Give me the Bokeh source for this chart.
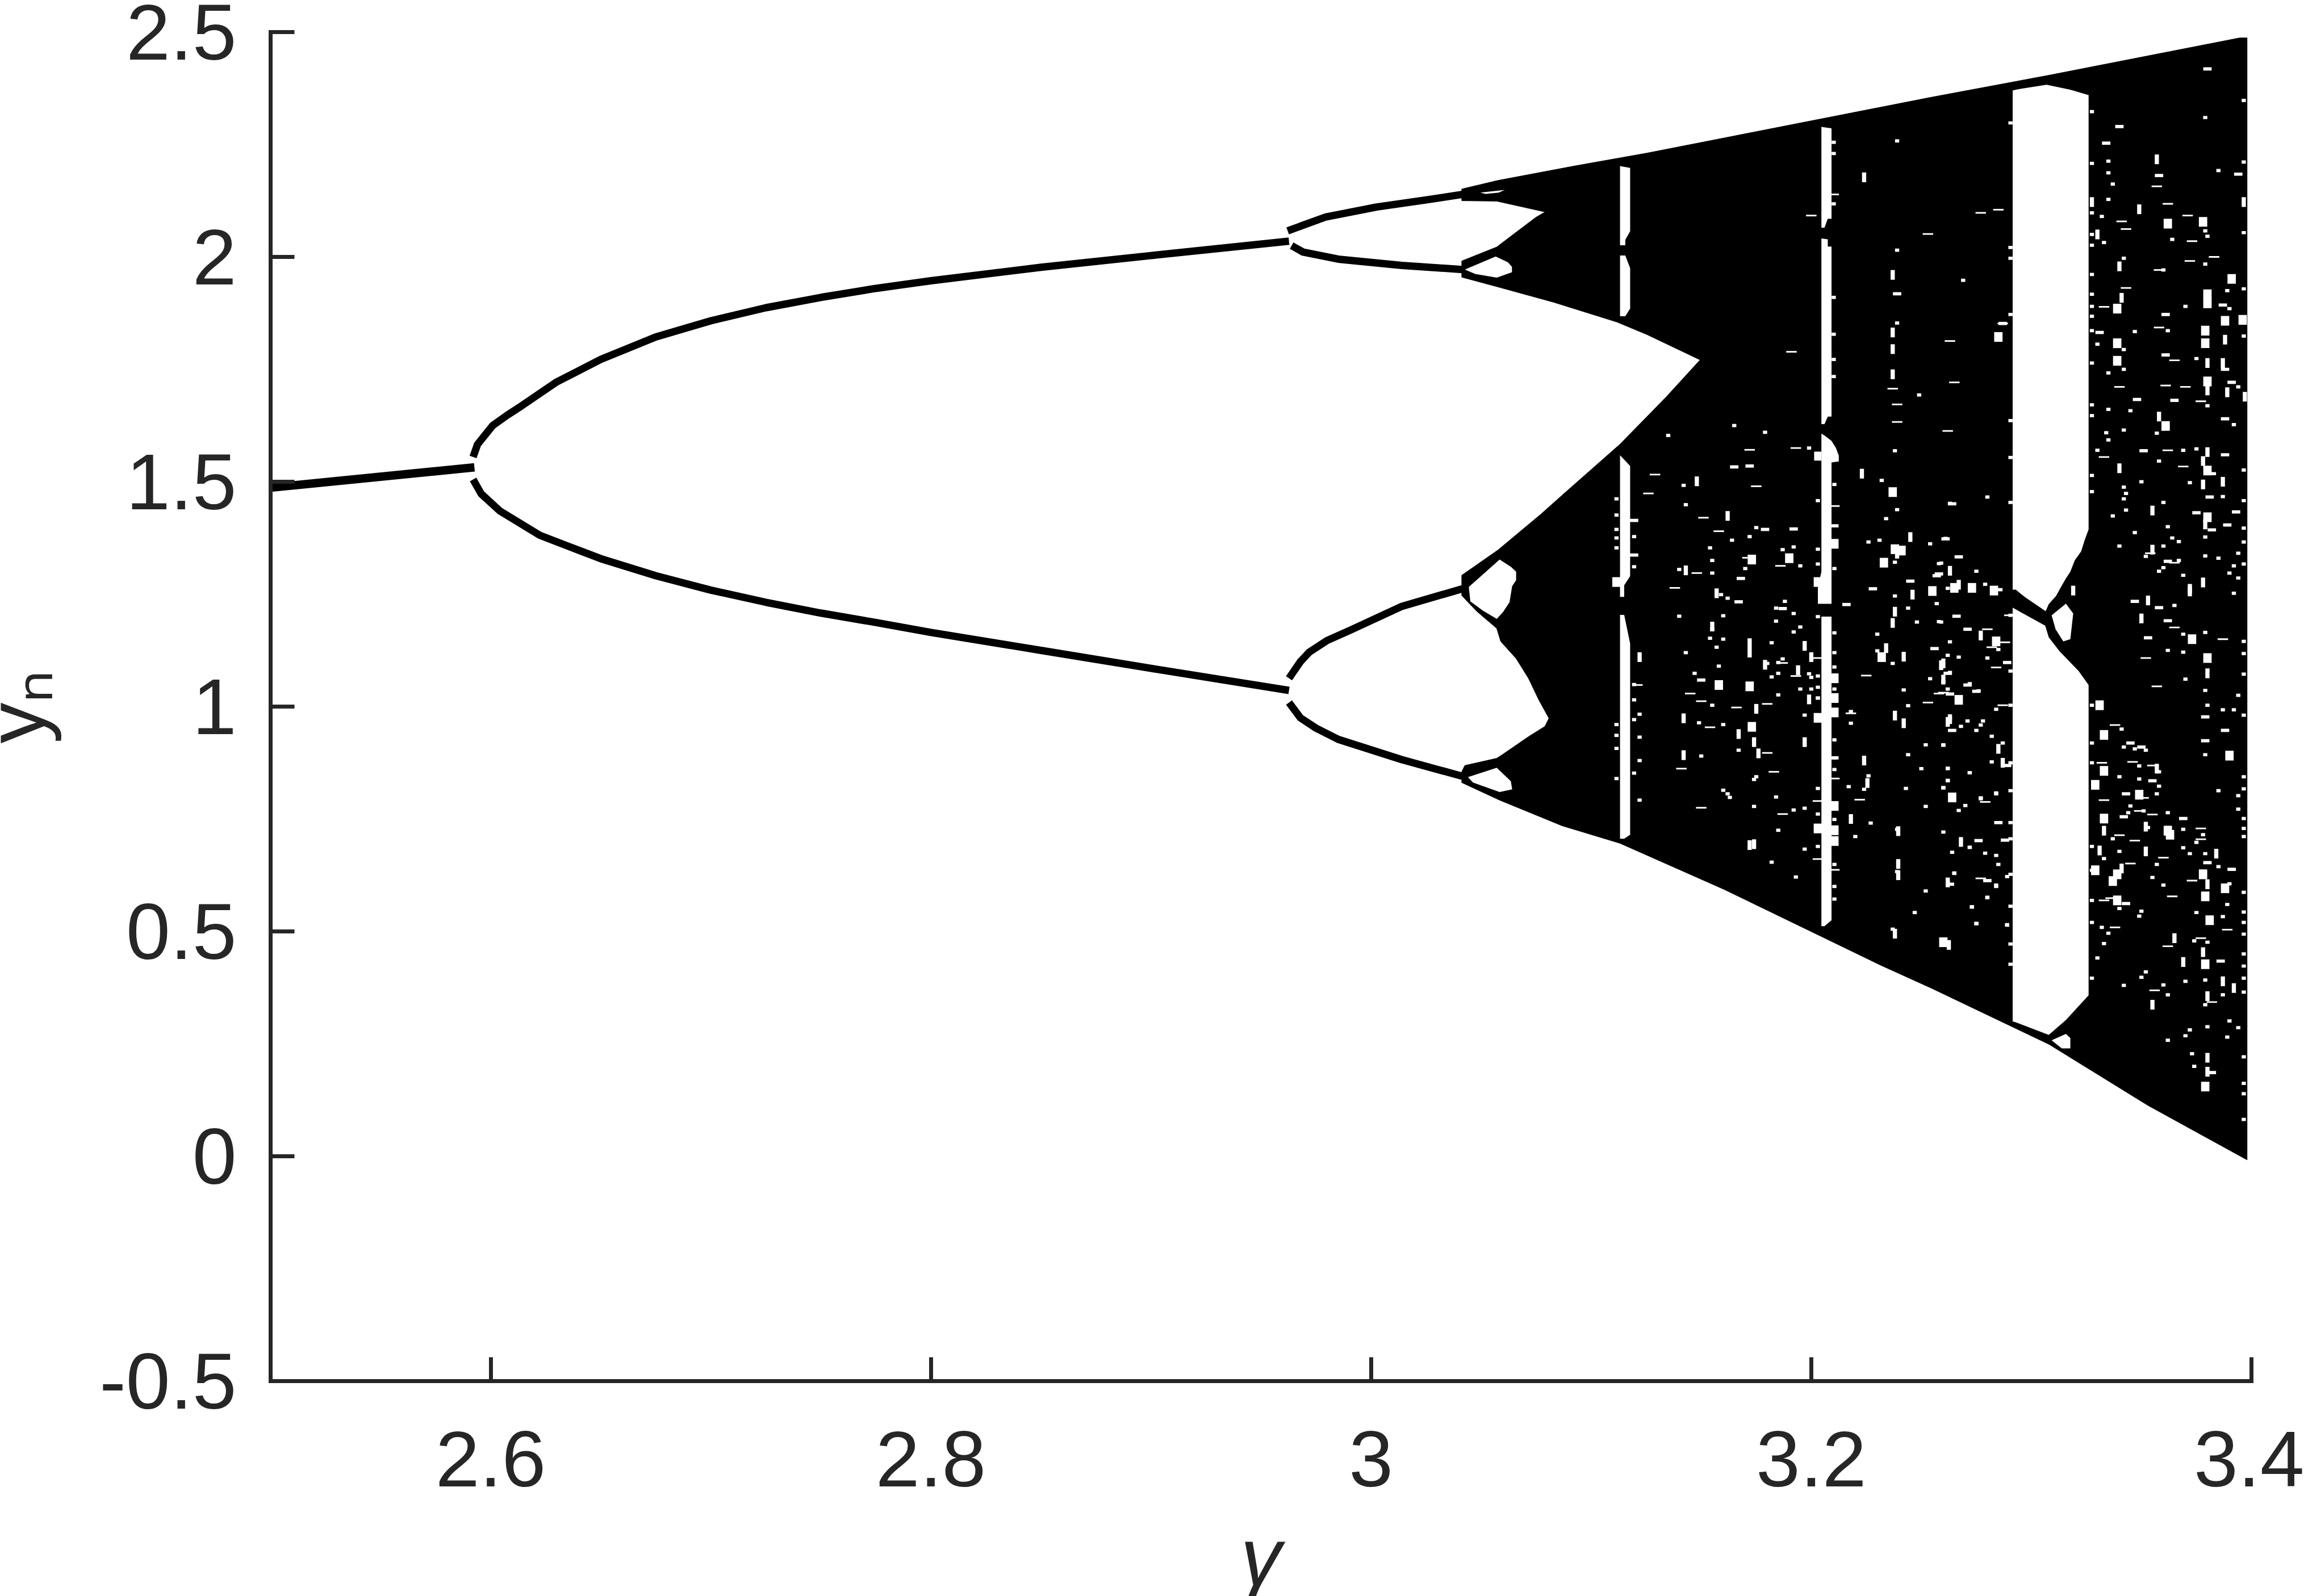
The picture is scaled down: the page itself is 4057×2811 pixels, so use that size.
from bokeh.plotting import figure
from bokeh.models import FixedTicker
from bokeh.embed import file_html
from bokeh.resources import INLINE

# ---------- tick labels ----------
x_ticks = [2.6, 2.8, 3.0, 3.2, 3.4]
x_tick_labels = ["2.6", "2.8", "3", "3.2", "3.4"]
y_ticks = [-0.5, 0, 0.5, 1, 1.5, 2, 2.5]
y_tick_labels = ["-0.5", "0", "0.5", "1", "1.5", "2", "2.5"]

# ---------- stable branches (gamma, y_n) ----------
fixed_point = [(2.5, 1.487), (2.5926, 1.532)]
arc_upper = [(2.592, 1.555), (2.594, 1.583), (2.6009, 1.625), (2.6075, 1.648), (2.6138, 1.668), (2.63, 1.722), (2.65, 1.772), (2.675, 1.822),
             (2.7, 1.858), (2.725, 1.887), (2.75, 1.910), (2.775, 1.930), (2.8, 1.947), (2.85, 1.977), (2.9, 2.003), (2.9627, 2.035)]
arc_lower = [(2.592, 1.505), (2.5957, 1.473), (2.6042, 1.435), (2.6223, 1.381), (2.635, 1.357), (2.65, 1.329), (2.675, 1.291),
             (2.7, 1.259), (2.725, 1.232), (2.75, 1.208), (2.775, 1.187), (2.8, 1.165), (2.85, 1.125), (2.9, 1.085), (2.9627, 1.036)]
p4_a = [(2.9621, 2.058), (2.9795, 2.089), (3.0025, 2.111), (3.0254, 2.127), (3.0415, 2.139)]
p4_b = [(2.9639, 2.025), (2.969, 2.011), (2.9851, 1.995), (3.014, 1.981), (3.0415, 1.972)]
p4_c = [(2.9627, 1.063), (2.9679, 1.100), (2.9719, 1.121), (2.98, 1.147), (2.991, 1.171), (3.014, 1.223), (3.0415, 1.262)]
p4_d = [(2.9627, 1.009), (2.9679, 0.975), (2.975, 0.952), (2.9851, 0.927), (3.014, 0.882), (3.0415, 0.845)]

# ---------- outline of the chaotic region ----------
chaos_top = [(3.0412, 2.151), (3.0576, 2.170), (3.0922, 2.202), (3.1255, 2.231), (3.2545, 2.355), (3.308, 2.404),
             (3.3946, 2.487), (3.398, 2.487)]
chaos_bottom = [(3.398, -0.008), (3.353, 0.113), (3.308, 0.249), (3.2545, 0.374), (3.2315, 0.425), (3.1606, 0.593),
                (3.1131, 0.696), (3.0868, 0.735), (3.0584, 0.792), (3.0412, 0.831)]
eye_low_lower = [(3.0412, 0.855), (3.0426, 0.869), (3.0571, 0.885), (3.0599, 0.894), (3.0715, 0.933), (3.079, 0.956),
                 (3.0808, 0.974)]
eye_low_upper = [(3.0762, 1.015), (3.0715, 1.063), (3.0659, 1.107), (3.0589, 1.145), (3.0571, 1.174), (3.048, 1.212),
                 (3.0412, 1.247)]
big_eye_lower = [(3.0412, 1.292), (3.0576, 1.348), (3.0772, 1.428), (3.0868, 1.47), (3.113, 1.583), (3.134, 1.688),
                 (3.1495, 1.771)]
big_eye_upper = [(3.1255, 1.827), (3.1118, 1.855), (3.0831, 1.899), (3.0571, 1.934), (3.0412, 1.955)]
eye_high_lower = [(3.0412, 1.991), (3.0571, 2.022), (3.0646, 2.05), (3.0749, 2.088), (3.0791, 2.10)]
eye_high_upper = [(3.0571, 2.124), (3.0412, 2.125)]

# ---------- white windows and holes ----------
hole_top_sliver = [(3.0496, 2.143), (3.0607, 2.149), (3.058, 2.143), (3.052, 2.140)]
hole_high = [(3.0426, 1.972), (3.0566, 2.001), (3.0622, 1.988), (3.064, 1.978), (3.064, 1.966), (3.0571, 1.954),
             (3.0473, 1.962)]
hole_mid = [(3.0444, 1.266), (3.0584, 1.327), (3.0635, 1.311), (3.0659, 1.300), (3.0659, 1.281), (3.0641, 1.268),
            (3.0629, 1.232), (3.0599, 1.210), (3.0571, 1.195), (3.0509, 1.213), (3.0451, 1.234)]
hole_low = [(3.044, 0.843), (3.0571, 0.864), (3.0635, 0.834), (3.0641, 0.816), (3.0584, 0.810), (3.0463, 0.831)]
w1_a = [(3.1131, 2.202), (3.1177, 2.198), (3.1177, 2.057), (3.1155, 2.038), (3.1155, 2.026), (3.1131, 2.026)]
w1_b = [(3.1131, 2.003), (3.1155, 2.003), (3.1177, 1.975), (3.1177, 1.885), (3.1155, 1.868), (3.1131, 1.868)]
w1_c = [(3.1131, 1.559), (3.1177, 1.535), (3.1177, 1.290), (3.1150, 1.270), (3.1150, 1.244), (3.1131, 1.244)]
w1_d = [(3.1131, 1.204), (3.1150, 1.204), (3.1177, 1.140), (3.1177, 0.715), (3.1150, 0.706), (3.1131, 0.706)]
w2_a = [(3.2046, 2.289), (3.2092, 2.286), (3.2092, 2.085), (3.2075, 2.085), (3.2060, 2.065), (3.2046, 2.065)]
w2_b = [(3.2046, 2.041), (3.2075, 2.039), (3.2075, 2.023), (3.2092, 2.023), (3.2092, 1.645), (3.2075, 1.645),
        (3.2060, 1.628), (3.2046, 1.628)]
w2_c = [(3.2046, 1.607), (3.2060, 1.603), (3.2092, 1.591), (3.2112, 1.575), (3.2125, 1.558), (3.2125, 1.545),
        (3.2092, 1.543), (3.2092, 1.2285), (3.2030, 1.2285), (3.2030, 1.265), (3.2046, 1.30)]
w2_d = [(3.2046, 1.20), (3.2092, 1.20), (3.2092, 0.525), (3.2060, 0.5118), (3.2046, 0.5118)]
w2_side = [(3.2013, 1.567), (3.2046, 1.567), (3.2046, 1.547), (3.2013, 1.547)]
w3_top = [(3.2915, 2.37), (3.2929, 2.372), (3.3069, 2.383), (3.3177, 2.372), (3.326, 2.360), (3.326, 1.394),
          (3.3242, 1.37), (3.3226, 1.345), (3.3197, 1.325), (3.3177, 1.30), (3.3157, 1.285), (3.3138, 1.269),
          (3.3112, 1.246), (3.3079, 1.228), (3.3065, 1.212), (3.2972, 1.243), (3.2929, 1.26), (3.2915, 1.26)]
w3_bottom = [(3.2915, 1.220), (3.3063, 1.180), (3.3079, 1.154), (3.3128, 1.123), (3.3215, 1.079), (3.326, 1.048),
             (3.326, 0.358), (3.3157, 0.303), (3.3079, 0.270), (3.2929, 0.298), (3.2915, 0.30)]
hole_w3_upper = [(3.3092, 1.203), (3.3157, 1.229), (3.319, 1.207), (3.3177, 1.150), (3.3145, 1.145), (3.311, 1.172)]
hole_w3_lower = [(3.3092, 0.258), (3.3157, 0.272), (3.3177, 0.263), (3.3177, 0.24), (3.3138, 0.24)]

# ---------- white specks ----------
speck_dot = [(3.165,1.625),(3.135,1.603),(3.199,1.575),(3.143,1.449),(3.142,1.492),(3.238,1.569),(3.232,1.503),(3.280,1.466),
 (3.263,1.452),(3.239,1.438),(3.234,1.418),(3.231,1.370),(3.226,1.366),(3.254,1.362),(3.261,1.374),(3.259,1.319),(3.238,1.321),
 (3.262,1.263),(3.238,1.246),(3.244,1.219),(3.257,1.229),(3.259,1.188),(3.248,1.188),(3.230,1.161),(3.230,1.124),(3.237,1.096),
 (3.262,1.114),(3.267,1.110),(3.280,1.108),(3.263,1.076),(3.260,1.055),(3.254,1.062),(3.263,1.144),(3.242,1.037),(3.244,1.002),
 (3.263,0.975),(3.218,0.989),(3.218,0.963),(3.276,1.035),(3.272,1.051),(3.164,1.370),(3.175,1.398),(3.172,1.378),(3.154,1.353),
 (3.155,1.325),(3.170,1.307),(3.192,1.355),(3.195,1.313),(3.187,1.349),(3.140,1.305),(3.155,1.297),(3.159,1.249),(3.162,1.241),
 (3.188,1.234),(3.184,1.219),(3.192,1.207),(3.160,1.202),(3.155,1.172),(3.184,1.190),(3.140,1.201),(3.154,1.152),(3.160,1.150),
 (3.157,1.132),(3.182,1.142),(3.192,1.166),(3.195,1.177),(3.143,1.120),(3.180,1.096),(3.185,1.098),(3.187,1.106),(3.158,1.090),
 (3.147,1.074),(3.182,1.066),(3.185,1.074),(3.199,1.073),(3.200,1.065),(3.195,1.039),(3.200,1.039),(3.203,1.019),(3.185,1.026),
 (3.197,0.981),(3.155,1.003),(3.122,0.983),(3.149,0.964),(3.160,0.960),(3.122,0.932),(3.167,0.903),(3.150,0.890),(3.122,0.880),
 (3.175,0.844),(3.174,0.838),(3.160,0.814),(3.162,0.806),(3.163,0.798),(3.184,0.799),(3.122,0.792),(3.174,0.778),(3.192,0.770),
 (3.197,0.774),(3.185,0.725),(3.197,0.683),(3.182,0.654),(3.193,0.621),(3.226,0.846),(3.217,0.822),(3.224,0.816),(3.243,0.818),
 (3.252,0.915),(3.260,0.915),(3.244,0.893),(3.287,0.919),(3.250,0.862),(3.262,0.862),(3.272,0.853),(3.262,0.836),(3.260,0.820),
 (3.264,0.798),(3.284,0.806),(3.277,0.795),(3.252,0.778),(3.239,0.727),(3.227,0.741),(3.220,0.711),(3.260,0.721),(3.239,0.633),
 (3.252,0.590),(3.262,0.610),(3.265,0.630),(3.284,0.600),(3.285,0.649),(3.280,0.576),(3.273,0.554),(3.275,0.517),(3.247,0.542),
 (3.237,0.505),(3.289,0.514),(3.272,0.687),(3.239,2.258),(3.239,2.015),(3.269,1.948),(3.239,1.853),(3.249,1.693),(3.179,1.610),
 (3.379,2.310),(3.335,2.213),(3.385,2.192),(3.335,2.187),(3.337,2.162),(3.335,2.128),(3.332,2.090),(3.379,2.058),(3.380,2.046),
 (3.333,2.032),(3.364,2.039),(3.342,1.997),(3.379,1.984),(3.360,1.971),(3.390,1.885),(3.370,1.890),(3.389,1.925),(3.347,1.834),
 (3.362,1.836),(3.330,1.806),(3.342,1.794),(3.342,1.750),(3.375,1.774),(3.335,1.742),(3.394,1.711),(3.380,1.669),(3.335,1.661),
 (3.345,1.658),(3.392,1.627),(3.342,1.615),(3.357,1.608),(3.334,1.609),(3.335,1.593),(3.330,1.570),(3.369,1.570),(3.375,1.573),
 (3.358,1.546),(3.350,1.500),(3.372,1.498),(3.342,1.488),(3.343,1.474),(3.342,1.462),(3.387,1.467),(3.360,1.454),(3.337,1.424),
 (3.343,1.437),(3.362,1.400),(3.347,1.387),(3.364,1.375),(3.379,1.377),(3.367,1.367),(3.340,1.357),(3.360,1.357),(3.394,1.341),
 (3.352,1.334),(3.379,1.335),(3.385,1.330),(3.392,1.313),(3.367,1.325),(3.358,1.301),(3.360,1.309),(3.369,1.292),(3.390,1.297),
 (3.394,1.286),(3.392,1.252),(3.258,1.318),(3.275,1.301),(3.279,1.272),(3.258,1.189),
 (3.285,1.127),(3.262,1.039),(3.284,0.994),(3.271,0.968),
 (3.275,0.947),(3.277,0.959),(3.278,0.968),(3.268,0.956),(3.282,0.934),(3.260,0.914),(3.282,0.877),(3.262,0.863),
 (3.272,0.853),(3.262,0.835),(3.260,0.819),(3.284,0.808),(3.277,0.797),(3.270,0.780),(3.267,0.769),(3.272,0.687),
 (3.264,0.676),(3.279,0.674),(3.284,0.669),(3.265,0.629),(3.284,0.603),(3.289,0.622),(3.280,0.575),(3.273,0.555),
 (3.275,0.518),(3.289,0.515),(3.365,1.225),(3.369,1.161),(3.379,1.165),(3.362,1.125),(3.369,1.121),(3.370,1.061),(3.379,1.036),
 (3.394,1.025),(3.380,1.003),(3.387,0.993),(3.392,0.993),(3.379,0.893),(3.385,0.813),(3.394,0.802),(3.394,0.772),(3.341,0.950),
 (3.347,0.906),(3.342,0.910),(3.352,0.903),(3.340,0.844),(3.349,0.868),(3.358,0.855),(3.358,0.823),(3.349,0.839),(3.357,0.806),
 (3.345,0.779),(3.344,0.764),(3.351,0.768),(3.362,0.764),(3.369,0.727),(3.353,0.731),(3.378,0.715),(3.375,0.698),(3.337,0.706),
 (3.340,0.678),(3.333,0.662),(3.369,0.686),(3.372,0.673),(3.379,0.673),(3.385,0.644),(3.357,0.649),(3.355,0.620),(3.390,0.606),
 (3.360,0.603),(3.340,0.551),(3.389,0.560),(3.350,0.545),(3.349,0.534),(3.375,0.542),(3.387,0.533),(3.332,0.509),(3.335,0.496),
 (3.333,0.473),(3.374,0.479),(3.380,0.476),(3.330,0.441),(3.352,0.410),(3.350,0.398),(3.379,0.392),(3.342,0.380),(3.360,0.381),
 (3.362,0.359),(3.370,0.389),(3.387,0.359),(3.379,0.337),(3.394,0.286),(3.372,0.281),(3.380,0.288),(3.362,0.258),(3.370,0.268),
 (3.389,0.265),(3.373,0.228),(3.374,0.200),(3.390,0.301),(3.2105,1.494),(3.2105,1.307),(3.2105,1.164),(3.2105,1.120),(3.2105,1.088),
 (3.2105,1.039),(3.2105,0.926),(3.2105,0.886),(3.2105,0.860),(3.2105,0.749),(3.2105,0.649),(3.2105,0.600),(3.2105,0.572),
 (3.2030,1.458),(3.2030,1.350),(3.2030,1.317),(3.2030,1.200),(3.2030,1.068),(3.2030,1.043),(3.2030,1.019),(3.2030,0.818),
 (3.2030,0.761),(3.2030,0.689),(3.1195,1.378),(3.1195,1.311),(3.1195,1.049),(3.1195,1.015),(3.1195,0.971),(3.1195,0.852),
 (3.1115,1.462),(3.1115,1.426),(3.1115,1.394),(3.1115,1.375),(3.1115,1.353),(3.1115,0.960),(3.1115,0.936),(3.1115,0.907),(3.1115,0.840),
 (3.2102,2.255),(3.2102,2.230),(3.2102,2.118),(3.2102,1.910),(3.2102,1.828),(3.2102,1.772),(3.2102,1.734),
 (3.2905,2.298),(3.2905,2.021),(3.2905,1.997),(3.2905,1.872),(3.2905,1.636),(3.2905,1.554),(3.2905,1.454),(3.2905,1.203),(3.2905,1.079),
 (3.2905,1.003),(3.2905,0.875),(3.2905,0.813),(3.2905,0.742),(3.2905,0.706),(3.2905,0.627),(3.2905,0.556),(3.2905,0.472),(3.2905,0.427),
 (3.3275,2.323),(3.3275,2.208),(3.3275,2.098),(3.3275,2.05),(3.3275,2.026),(3.3275,1.961),(3.3275,1.917),(3.3275,1.890),(3.3275,1.868),
 (3.3275,1.836),(3.3275,1.764),(3.3275,1.671),(3.3275,1.647),(3.3275,1.514),(3.3275,1.478),(3.3275,1.003),(3.3275,0.919),(3.3275,0.875),
 (3.3275,0.689),(3.3275,0.636),(3.3275,0.569),(3.3275,0.520),(3.3275,0.396),
 (3.3965,2.348),(3.3965,2.211),(3.3965,2.054),(3.3965,1.929),(3.3965,1.824),(3.3965,1.526),(3.3965,1.458),(3.3965,1.397),(3.3965,1.366),
 (3.3965,1.317),(3.3965,1.145),(3.3965,1.118),(3.3965,1.072),(3.3965,0.981),(3.3965,0.844),(3.3965,0.817),(3.3965,0.751),(3.3965,0.729),
 (3.3965,0.711),(3.3965,0.587),(3.3965,0.543),(3.3965,0.520),(3.3965,0.494),(3.3965,0.450),(3.3965,0.423),(3.3965,0.396),(3.3965,0.365),
 (3.3965,0.221),(3.3965,0.162),(3.3965,0.139),(3.3965,0.082)]
speck_wide = [(3.239,1.918),(3.380,2.418),(3.340,2.290),(3.334,2.253),(3.394,2.184),(3.358,2.181),(3.361,1.872),(3.387,1.893),(3.331,1.832),
 (3.361,1.782),(3.388,1.750),(3.391,1.721),(3.348,1.683),(3.365,1.681),(3.388,1.640),(3.351,1.569),(3.388,1.560),(3.382,1.518),(3.381,1.466),
 (3.375,1.431),(3.393,1.433),(3.382,1.393),(3.389,1.404),(3.362,1.323),(3.264,1.451),(3.261,1.373),(3.267,1.333),(3.257,1.291),(3.285,1.260),
 (3.266,1.201),(3.271,1.172),(3.256,1.129),(3.262,1.074),(3.289,1.098),(3.271,1.048),(3.275,1.034),(3.263,1.028),(3.264,0.947),(3.289,0.869),
 (3.285,0.742),(3.288,0.703),(3.276,0.702),(3.263,0.605),(3.280,0.613),(3.347,1.234),(3.358,1.220),(3.362,1.191),(3.353,1.153),(3.379,0.977),
 (3.388,0.947),(3.379,0.924),(3.345,0.919),(3.350,0.910),(3.355,0.835),(3.343,0.806),(3.342,0.755),(3.369,0.751),(3.380,0.653),(3.391,0.638),
 (3.343,0.562),(3.382,0.186),(3.386,0.434),(3.2105,1.402),(3.2105,0.886),(3.1195,1.414),(3.1195,1.337),(3.165,1.533),(3.179,1.394),(3.192,1.395),
 (3.172,1.535),(3.258,1.295),(3.245,1.279),(3.228,1.262),(3.216,1.227),(3.287,1.852),(3.167,1.233),(3.168,1.285),(3.187,1.218),(3.150,1.059)]
speck_long = [(3.191,1.789),(3.263,1.813),(3.285,2.105),(3.126,1.474),(3.172,1.571),(3.175,1.490),(3.158,1.390),(3.171,1.331),(3.186,1.313),
 (3.148,1.297),(3.138,1.264),(3.187,1.097),(3.193,1.068),(3.150,1.012),(3.145,1.029),(3.166,0.998),(3.180,1.006),(3.121,1.048),(3.154,0.954),
 (3.180,0.897),(3.141,0.862),(3.183,0.855),(3.150,0.775),(3.187,0.761),(3.222,0.793),(3.225,1.069),(3.218,0.985),(3.253,1.009),(3.260,1.031),
 (3.341,2.079),(3.343,2.062),(3.371,2.092),(3.357,2.157),(3.362,2.118),(3.373,2.035),(3.372,1.991),(3.383,2.000),(3.358,1.971),(3.343,1.931),
 (3.333,1.889),(3.358,1.843),(3.365,1.770),(3.340,1.711),(3.361,1.714),(3.370,1.711),(3.377,1.679),(3.362,1.570),(3.333,1.555),(3.369,1.534),
 (3.354,1.341),(3.365,1.320),(3.290,1.203),(3.280,1.172),(3.288,1.143),(3.282,1.132),(3.284,1.087),(3.258,1.029),(3.287,1.003),
 (3.279,0.788),(3.277,0.618),(3.365,1.176),(3.387,1.150),(3.352,1.108),(3.357,1.045),(3.338,0.959),(3.332,0.875),(3.346,0.877),(3.355,0.869),
 (3.333,0.792),(3.351,0.797),(3.349,0.768),(3.355,0.760),(3.377,0.729),(3.377,0.705),(3.347,0.702),(3.340,0.714),(3.360,0.664),(3.345,0.651),
 (3.373,0.613),(3.364,0.578),(3.336,0.574),(3.333,0.569),(3.389,0.504),(3.338,0.509),(3.362,0.467),(3.377,0.485),(3.356,0.369),(3.382,0.343),
 (3.2105,1.446),(3.2105,0.840),(3.2105,0.637),(3.2030,1.108),(3.2030,0.790),(3.2030,0.661),(3.2102,2.139),(3.253,2.051),(3.277,2.098),(3.287,1.852),
 (3.265,1.721),(3.239,1.672),(3.239,1.633),(3.262,1.613),(3.200,2.092),(3.237,1.707),(3.129,1.516),(3.151,1.420),(3.193,1.575)]
speck_tall = [(3.224,2.177),(3.237,1.832),(3.237,1.795),(3.237,1.739),(3.237,1.96),(3.148,1.501),(3.162,1.424),(3.223,1.518),(3.245,1.377),(3.239,1.340),
 (3.263,1.302),(3.246,1.249),(3.238,1.211),(3.237,1.186),(3.242,1.111),(3.234,1.130),(3.259,1.092),(3.260,1.060),(3.238,0.980),(3.242,0.963),(3.262,0.966),
 (3.143,1.303),(3.157,1.252),(3.155,1.178),(3.172,1.141),(3.172,1.120),(3.122,1.110),(3.197,1.135),(3.200,1.110),(3.179,1.093),(3.194,1.081),(3.199,1.016),
 (3.175,0.995),(3.142,0.974),(3.167,0.939),(3.174,0.921),(3.197,0.921),(3.176,0.896),(3.142,0.892),(3.224,0.880),(3.174,0.694),(3.172,0.692),
 (3.357,2.217),(3.349,2.106),(3.330,2.050),(3.340,1.979),(3.341,1.909),(3.388,1.816),(3.380,1.764),(3.387,1.764),(3.380,1.703),(3.389,1.699),(3.397,1.689),
 (3.358,1.645),(3.380,1.566),(3.378,1.546),(3.340,1.530),(3.378,1.494),(3.387,1.500),(3.355,1.436),(3.379,1.405),(3.355,1.349),(3.378,1.276),(3.372,1.262),
 (3.319,1.258),(3.267,1.271),(3.277,1.158),(3.260,1.096),(3.263,0.972),(3.285,0.906),(3.287,0.875),(3.268,0.699),(3.262,0.609),(3.353,1.236),(3.372,1.256),
 (3.350,1.196),(3.380,1.074),(3.357,0.862),(3.352,0.733),(3.333,0.724),(3.362,0.724),(3.352,0.678),(3.331,0.680),(3.384,0.673),(3.341,0.640),(3.380,0.605),
 (3.365,0.485),(3.369,0.432),(3.378,0.454),(3.387,0.389),(3.392,0.374),(3.355,0.337),(3.380,0.356),(3.380,0.219),(3.380,0.188),(3.3965,2.122),(3.3275,2.122),
 (3.2395,0.723),(3.2395,0.625),(3.2395,0.650),(3.2255,0.830),(3.218,0.750),(3.238,0.495),(3.2625,0.470)]
speck_block = [(3.285,1.822),(3.362,2.074),(3.378,2.078),(3.391,1.951),(3.380,1.917),(3.380,1.897),(3.379,1.836),(3.379,1.808),(3.339,1.885),(3.388,1.858),
 (3.396,1.860),(3.339,1.808),(3.339,1.769),(3.380,1.723),(3.361,1.624),(3.380,1.525),(3.380,1.421),(3.273,1.264),(3.284,1.145),(3.264,0.798),(3.260,0.476),
 (3.373,1.150),(3.380,1.108),(3.390,0.891),(3.331,1.003),(3.333,0.937),(3.333,0.857),(3.329,0.826),(3.349,0.804),(3.333,0.751),(3.362,0.724),(3.363,0.715),
 (3.339,0.627),(3.337,0.612),(3.329,0.636),(3.378,0.627),(3.388,0.596),(3.379,0.578),(3.339,0.569),(3.381,0.525),(3.379,0.427),(3.379,0.155),(3.2105,1.362),
 (3.2105,1.063),(3.2105,1.019),(3.2105,0.987),(3.2105,0.779),(3.2105,0.725),(3.2105,0.701),(3.2030,1.277),(3.2030,0.975),(3.2030,0.729),(3.1115,1.277),
 (3.172,1.045),(3.158,1.048),(3.173,0.955),(3.173,1.327),(3.190,1.330),(3.237,1.477),(3.241,1.347),(3.238,1.350),(3.233,1.320),(3.255,1.257),(3.265,1.264),
 (3.283,1.258),(3.232,1.110),(3.267,1.015)]

CELL_W, CELL_H = 0.0019, 0.0072
INK = "#262626"
FONT = "Liberation Sans"

p = figure(width=4112, height=2811, output_backend="svg", toolbar_location=None,
           x_range=(2.5, 3.4), y_range=(-0.5, 2.5), frame_width=3488, frame_height=2376,
           min_border_left=476, min_border_top=56, min_border_right=93, min_border_bottom=379,
           outline_line_color=None, background_fill_color="white", border_fill_color="white",
           styles={"margin-left": "-55px"})
p.grid.visible = False


def xs(points):
    return [q[0] for q in points]


def ys(points):
    return [q[1] for q in points]


# branches
p.line(xs(fixed_point), ys(fixed_point), line_color="black", line_width=15)
for branch in (arc_upper, arc_lower, p4_a, p4_b, p4_c, p4_d):
    p.line(xs(branch), ys(branch), line_color="black", line_width=13, line_join="round")

# chaotic region
outline = (chaos_top + chaos_bottom + eye_low_lower + eye_low_upper + big_eye_lower + big_eye_upper
           + eye_high_lower + eye_high_upper)
p.patch(xs(outline), ys(outline), fill_color="black", line_color="black", line_width=1)

# windows
for shape in (hole_top_sliver, hole_high, hole_mid, hole_low, w1_a, w1_b, w1_c, w1_d, w2_a, w2_b, w2_c, w2_d, w2_side,
              w3_top, w3_bottom, hole_w3_upper, hole_w3_lower):
    p.patch(xs(shape), ys(shape), fill_color="white", line_color=None)

# specks
for specks, w, h in ((speck_dot, 1, 1), (speck_wide, 2, 1), (speck_long, 2.5, 0.5), (speck_tall, 1, 3), (speck_block, 2, 3)):
    p.rect(xs(specks), ys(specks), width=w * CELL_W, height=h * CELL_H, fill_color="white", line_color=None)

# axes
p.xaxis.ticker = FixedTicker(ticks=x_ticks)
p.yaxis.ticker = FixedTicker(ticks=y_ticks)
p.xaxis.major_label_overrides = dict(zip(x_ticks, x_tick_labels))
p.yaxis.major_label_overrides = dict(zip(y_ticks, y_tick_labels))
for ax in (p.xaxis[0], p.yaxis[0]):
    ax.axis_line_color = INK
    ax.axis_line_width = 7
    ax.axis_line_cap = "square"
    ax.major_tick_line_color = INK
    ax.major_tick_line_width = 7
    ax.major_tick_in = 42
    ax.major_tick_out = 0
    ax.minor_tick_line_color = None
    ax.major_label_text_font = FONT
    ax.major_label_text_font_size = "140px"
    ax.major_label_text_color = INK
    ax.axis_label_text_font = FONT
    ax.axis_label_text_font_size = "144px"
    ax.axis_label_text_color = INK
p.xaxis[0].major_label_standoff = 89
p.yaxis[0].major_label_standoff = 60
p.xaxis[0].major_label_orientation = "horizontal"
p.yaxis[0].major_label_orientation = "horizontal"
p.xaxis[0].axis_label = "γ"
p.xaxis[0].axis_label_text_font_style = "italic"
p.xaxis[0].axis_label_standoff = 41
p.yaxis[0].axis_label = "yₙ"
p.yaxis[0].axis_label_text_font_style = "normal"
p.yaxis[0].axis_label_standoff = 63

open("out.html", "w").write(file_html(p, INLINE))
